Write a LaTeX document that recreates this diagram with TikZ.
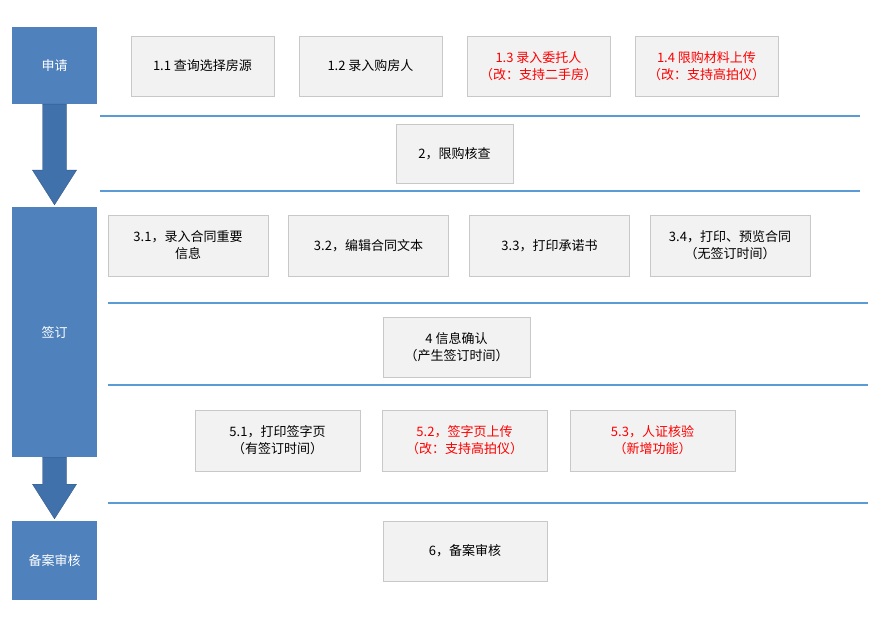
\documentclass[tikz,border=0pt]{standalone}
\usepackage{fontspec}
\setmainfont{Noto Sans CJK SC}
\usetikzlibrary{positioning,calc}
\definecolor{stageblue}{RGB}{79,129,189}
\definecolor{boxgray}{RGB}{242,242,242}
\definecolor{boxline}{RGB}{200,200,200}
\definecolor{lineblue}{RGB}{91,155,213}
\definecolor{arrowblue}{RGB}{65,113,170}

\begin{document}
\begin{tikzpicture}[x=1pt,y=-1pt,font=\fontsize{13}{17}\selectfont,
  stage/.style={rectangle,fill=stageblue,text=white,minimum width=85pt},
  task/.style={rectangle,fill=boxgray,draw=boxline,align=center,minimum height=60pt},
  newtask/.style={task,text=red},
  sep/.style={draw=lineblue,line width=1.2pt},
  flow/.style={fill=arrowblue,draw=arrowblue!80!black}]

    \useasboundingbox (0,0) rectangle (882,617);

    % The stages
    \node [stage,minimum height=77pt] at (54.5,65.5) (apply) {申请};
    \node [stage,minimum height=250pt] at (54.5,332) (sign) {签订};
    \node [stage,minimum height=79pt] at (54.5,560.5) (file) {备案审核};

    % The arrows
    \path[flow] ($(apply.south)+(-12,0)$) -- ++(0,66) -- ++(-10,0) -- ($(sign.north)+(0,-2)$)
      -- ($(apply.south)+(22,66)$) -- ++(-10,0) -- ($(apply.south)+(12,0)$) -- cycle;
    \path[flow] ($(sign.south)+(-12,0)$) -- ++(0,27) -- ++(-10,0) -- ($(file.north)+(0,-2)$)
      -- ($(sign.south)+(22,27)$) -- ++(-10,0) -- ($(sign.south)+(12,0)$) -- cycle;

    % The separators
    \coordinate (l1) at (100,116); \coordinate (r1) at (860,116);
    \coordinate (l2) at (100,191); \coordinate (r2) at (860,191);
    \coordinate (l3) at (108,303); \coordinate (r3) at (868,303);
    \coordinate (l4) at (108,385); \coordinate (r4) at (868,385);
    \coordinate (l5) at (108,503); \coordinate (r5) at (868,503);
    \path[sep] (l1) edge (r1) (l2) edge (r2) (l3) edge (r3) (l4) edge (r4) (l5) edge (r5);

    % The tasks
    \node [task,minimum width=143pt] at (202.5,66) (t11) {1.1 查询选择房源};
    \node [task,minimum width=143pt] at (370.5,66) (t12) {1.2 录入购房人};
    \node [newtask,minimum width=143pt] at (538.5,66) (t13) {1.3 录入委托人\\（改：支持二手房）};
    \node [newtask,minimum width=143pt] at (706.5,66) (t14) {1.4 限购材料上传\\（改：支持高拍仪）};
    \node [task,minimum width=117pt,minimum height=59pt] at (454.5,153.5) (t2) {2，限购核查};
    \node [task,minimum width=160pt,minimum height=61pt] at (188,245.5) (t31) {3.1，录入合同重要\\信息};
    \node [task,minimum width=160pt,minimum height=61pt] at (368.5,245.5) (t32) {3.2，编辑合同文本};
    \node [task,minimum width=160pt,minimum height=61pt] at (549.5,245.5) (t33) {3.3，打印承诺书};
    \node [task,minimum width=160pt,minimum height=61pt] at (730,245.5) (t34) {3.4，打印、预览合同\\（无签订时间）};
    \node [task,minimum width=147pt] at (456.5,347) (t4) {4 信息确认\\（产生签订时间）};
    \node [task,minimum width=165pt,minimum height=61pt] at (277.5,440.5) (t51) {5.1，打印签字页\\（有签订时间）};
    \node [newtask,minimum width=165pt,minimum height=61pt] at (464.5,440.5) (t52) {5.2，签字页上传\\（改：支持高拍仪）};
    \node [newtask,minimum width=165pt,minimum height=61pt] at (652.5,440.5) (t53) {5.3，人证核验\\（新增功能）};
    \node [task,minimum width=164pt] at (465,551) (t6) {6，备案审核};

\end{tikzpicture}
\end{document}
